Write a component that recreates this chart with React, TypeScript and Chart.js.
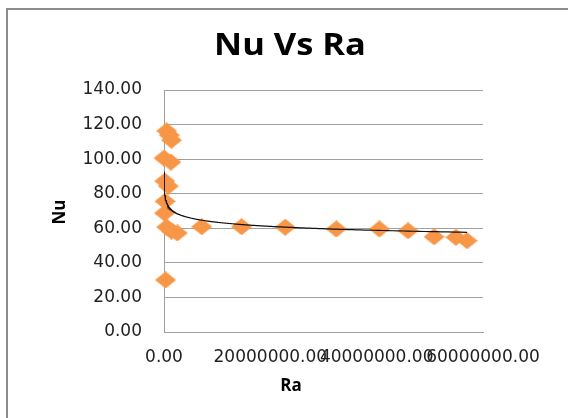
import { useEffect, useRef } from "react";
import { Chart, registerables } from "chart.js";

Chart.register(...registerables);

// Rayleigh number of each run and the measured Nusselt number
const raValues = [
  500000, 1000000, 1400000, 10000, 1300000, 150000, 800000, 200000, 100000, 500000,
  1400000, 2500000, 300000, 7090000, 14600000, 22800000, 32400000, 40500000,
  45900000, 50800000, 54900000, 57000000,
];
const nuValues = [
  116.3, 113.9, 111.0, 100.6, 98.3, 87.3, 84.4, 75.6, 68.8, 60.7,
  58.4, 57.3, 30.1, 60.9, 60.9, 60.6, 59.6, 59.6, 58.6, 55.1, 54.8, 52.8,
];

const xTickValues = [0, 20000000, 40000000, 60000000];
const yTickValues = [0, 20, 40, 60, 80, 100, 120, 140];

const chartTitle = "Nu Vs Ra";
const xTitle = "Ra";
const yTitle = "Nu";

const ORANGE = "#F79646";
const GRID = "#a0a0a0";
const TICK_FONT = { family: "'DejaVu Sans', Verdana, sans-serif", size: 17 };

// Least-squares power trendline  Nu = a * Ra^b  (fitted in log-log space)
function powerFit(xs: number[], ys: number[]) {
  const lx = xs.map((v) => Math.log(v));
  const ly = ys.map((v) => Math.log(v));
  const n = lx.length;
  const mx = lx.reduce((s, v) => s + v, 0) / n;
  const my = ly.reduce((s, v) => s + v, 0) / n;
  let sxy = 0;
  let sxx = 0;
  for (let i = 0; i < n; i++) {
    sxy += (lx[i] - mx) * (ly[i] - my);
    sxx += (lx[i] - mx) * (lx[i] - mx);
  }
  const b = sxy / sxx;
  const a = Math.exp(my - b * mx);
  return { a, b };
}

function trendPoints() {
  const { a, b } = powerFit(raValues, nuValues);
  const lo = Math.min(...raValues);
  const hi = Math.max(...raValues);
  const pts: { x: number; y: number }[] = [];
  const steps = 400;
  for (let i = 0; i <= steps; i++) {
    const x = lo * Math.pow(hi / lo, i / steps);
    pts.push({ x, y: a * Math.pow(x, b) });
  }
  return pts;
}

function diamondSprite(w: number, h: number) {
  const c = document.createElement("canvas");
  c.width = w;
  c.height = h;
  const g = c.getContext("2d")!;
  g.fillStyle = ORANGE;
  g.beginPath();
  g.moveTo(w / 2, 0);
  g.lineTo(w, h / 2);
  g.lineTo(w / 2, h);
  g.lineTo(0, h / 2);
  g.closePath();
  g.fill();
  return c;
}

const textPlugin = {
  id: "chartTexts",
  afterDraw(chart: any) {
    const { ctx, chartArea } = chart;
    ctx.save();
    ctx.fillStyle = "#000";
    ctx.textAlign = "center";

    ctx.save();
    ctx.font = "bold 30px 'Open Sans', sans-serif";
    ctx.textBaseline = "alphabetic";
    ctx.translate(290, 55);
    ctx.scale(1.15, 1);
    ctx.fillText(chartTitle, 0, 0);
    ctx.restore();

    ctx.font = "bold 17px 'Open Sans', sans-serif";
    ctx.textBaseline = "middle";
    ctx.fillText(xTitle, 291, 386);

    ctx.save();
    ctx.translate(60, (chartArea.top + chartArea.bottom) / 2 + 1);
    ctx.rotate(-Math.PI / 2);
    ctx.fillText(yTitle, 0, 0);
    ctx.restore();

    ctx.restore();
  },
};

export default function App() {
  const canvasRef = useRef<HTMLCanvasElement | null>(null);

  useEffect(() => {
    const canvas = canvasRef.current;
    if (!canvas) return;
    const sprite = diamondSprite(21, 17);
    const points = raValues.map((x, i) => ({ x, y: nuValues[i] }));

    const chart = new Chart(canvas, {
      type: "scatter",
      data: {
        datasets: [
          {
            type: "line",
            label: "Power (Nu)",
            data: trendPoints(),
            borderColor: "#111",
            borderWidth: 1.2,
            pointRadius: 0,
            fill: false,
            order: 0,
          } as any,
          {
            label: "Nu",
            data: points,
            pointStyle: sprite as any,
            pointRadius: 9,
            clip: false,
            order: 1,
          } as any,
        ],
      },
      options: {
        responsive: false,
        animation: false,
        layout: { padding: { top: 90, right: 85, bottom: 0, left: 0 } },
        plugins: {
          legend: { display: false },
          tooltip: { enabled: false },
          title: { display: false },
        },
        scales: {
          x: {
            type: "linear",
            min: 0,
            max: 60000000,
            afterFit: (s: any) => {
              s.height = 86;
            },
            afterBuildTicks: (s: any) => {
              s.ticks = xTickValues.map((value) => ({ value }));
            },
            ticks: {
              autoSkip: false,
              maxRotation: 0,
              minRotation: 0,
              padding: 15,
              color: "#222",
              font: TICK_FONT,
              callback: (v: any) => Number(v).toFixed(2),
            },
            grid: { display: false, drawTicks: false },
            border: { display: true, color: GRID, width: 1 },
          },
          y: {
            type: "linear",
            min: 0,
            max: 140,
            afterFit: (s: any) => {
              s.width = 164;
            },
            afterBuildTicks: (s: any) => {
              s.ticks = yTickValues.map((value) => ({ value }));
            },
            ticks: {
              padding: 22,
              color: "#222",
              font: TICK_FONT,
              callback: (v: any) => Number(v).toFixed(2),
            },
            grid: { color: GRID, lineWidth: 1, drawTicks: false },
            border: { display: true, color: GRID, width: 1 },
          },
        },
      },
      plugins: [textPlugin],
    });

    return () => chart.destroy();
  }, []);

  return (
    <div
      style={{
        position: "fixed",
        left: 0,
        top: 0,
        width: 568,
        height: 418,
        overflow: "hidden",
        background: "#fff",
      }}
    >
      <div
        style={{
          position: "absolute",
          left: 6,
          top: 8,
          width: 700,
          height: 600,
          borderLeft: "2px solid #8c8c8c",
          borderTop: "2px solid #8c8c8c",
        }}
      />
      <canvas
        ref={canvasRef}
        width={568}
        height={418}
        style={{ position: "absolute", left: 0, top: 0 }}
      />
    </div>
  );
}
